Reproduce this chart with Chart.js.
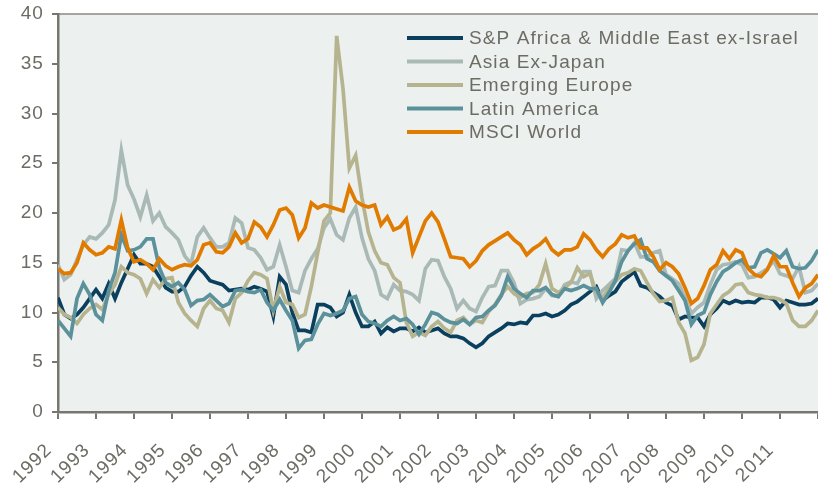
<!DOCTYPE html>
<html>
<head>
<meta charset="utf-8">
<script src="https://cdn.jsdelivr.net/npm/chart.js@4.4.0/dist/chart.umd.min.js"></script>
<style>
  html, body { margin: 0; padding: 0; background: #ffffff; }
  #wrap { width: 818px; height: 483px; }
</style>
</head>
<body>
<div id="wrap"><canvas id="grafico"></canvas></div>
<script>
// bimonthly readings, Jan 1992 .. Dec 2011
const startYear = 1992;
const pointsPerYear = 6;
const yearLabels = ['1992', '1993', '1994', '1995', '1996', '1997', '1998', '1999', '2000', '2001',
  '2002', '2003', '2004', '2005', '2006', '2007', '2008', '2009', '2010', '2011'];

const spAfrica = [
  11.5, 9.8, 9.4, 9.8, 10.5, 11.4,
  12.3, 11.4, 12.9, 11.4, 13.0, 14.4,
  15.8, 14.9, 14.9, 14.6, 13.6, 12.5,
  12.1, 12.1, 12.6, 13.7, 14.6, 14.0,
  13.2, 13.0, 12.8, 12.2, 12.3, 12.4,
  12.3, 12.6, 12.4, 12.1, 9.6, 13.6,
  12.8, 10.0, 8.2, 8.2, 8.0, 10.8,
  10.8, 10.5, 9.6, 10.0, 11.8, 10.0,
  8.6, 8.6, 9.1, 7.9, 8.5, 8.1,
  8.4, 8.4, 8.1, 8.5, 8.0, 8.2,
  8.4, 7.9, 7.6, 7.6, 7.4, 6.9,
  6.5, 6.9, 7.6, 8.0, 8.4, 8.9,
  8.8, 9.0, 8.9, 9.7, 9.7, 9.9,
  9.6, 9.8, 10.2, 10.8, 11.1, 11.6,
  12.1, 12.6, 11.2, 11.7, 12.1, 13.1,
  13.6, 14.1, 12.7, 12.5, 12.0, 11.6,
  11.0, 10.7, 9.3, 9.6, 9.5, 9.5,
  8.6, 9.8, 10.4, 11.2, 10.9, 11.2,
  11.0, 11.1, 11.0, 11.5, 11.5, 11.3,
  10.5, 11.2, 11.0, 10.8, 10.8, 10.9, 11.4
];

const asiaExJapan = [
  14.8, 13.3, 13.8, 15.3, 16.8, 17.6,
  17.4, 18.0, 18.8, 21.3, 26.3, 22.8,
  21.4, 19.6, 21.8, 19.2, 20.0, 18.6,
  18.0, 17.3, 15.7, 14.9, 17.6, 18.5,
  17.5, 16.6, 16.6, 17.0, 19.5, 19.0,
  16.5, 16.3, 15.5, 14.3, 14.6, 16.8,
  14.6, 12.2, 12.0, 14.2, 15.4, 16.4,
  18.5, 19.4, 17.8, 17.3, 19.5, 20.6,
  17.5, 15.4, 14.2, 11.8, 11.4, 12.8,
  12.2, 12.1, 11.8, 11.2, 14.4, 15.3,
  15.2, 13.6, 12.4, 10.4, 11.2, 10.4,
  10.1, 11.5, 12.6, 12.7, 14.2, 14.2,
  13.0, 10.9, 11.3, 11.4, 11.6, 12.4,
  11.7, 11.6, 12.8, 13.1, 12.9, 14.1,
  14.1, 11.4, 12.2, 12.8, 13.4, 16.3,
  16.2, 17.0, 15.6, 15.6, 16.0, 16.2,
  13.8, 13.4, 12.9, 11.5, 9.9, 10.5,
  11.0, 12.8, 14.3, 14.8, 14.9, 15.1,
  14.8, 13.5, 13.6, 14.0, 14.4, 15.2,
  13.9, 13.7, 13.4, 14.6, 12.0, 12.2, 12.9
];

const emergingEurope = [
  10.5, 9.8, 9.5, 8.9, 9.8, 10.4,
  10.8, 10.3, 11.8, 12.8, 14.6, 14.0,
  13.8, 13.4, 11.9, 13.3, 12.5, 13.4,
  13.5, 11.0, 9.9, 9.2, 8.6, 10.4,
  11.2, 10.4, 10.2, 9.0, 11.4, 12.0,
  13.2, 14.0, 13.8, 13.4, 10.2, 12.6,
  11.0, 10.8, 9.5, 9.8, 12.6, 16.0,
  19.2, 20.0, 37.8, 32.5, 24.5, 25.8,
  21.5, 18.1, 16.2, 15.0, 14.8, 13.5,
  13.0, 9.0, 7.6, 8.0, 7.7, 8.6,
  9.1, 8.4, 8.0, 9.2, 9.5, 8.8,
  9.2, 9.0, 10.1, 10.8, 11.8, 12.6,
  11.9, 11.5, 11.9, 12.0, 12.8, 14.9,
  12.4, 12.0, 12.5, 13.0, 14.5, 13.6,
  13.9, 12.0, 11.5, 12.4, 13.1, 13.8,
  14.0, 14.4, 14.2, 13.0, 11.9, 11.1,
  11.2, 11.5, 9.0, 7.9, 5.2, 5.5,
  6.8, 9.9, 10.8, 11.7, 12.1, 12.8,
  12.9, 12.0, 11.8, 11.7, 11.5, 11.5,
  11.3, 10.9, 9.2, 8.6, 8.6, 9.2, 10.2
];

const latinAmerica = [
  9.2, 8.4, 7.6, 11.4, 12.9, 11.8,
  9.8, 9.2, 12.2, 14.0, 17.8, 16.2,
  16.3, 16.6, 17.4, 17.4, 14.5, 13.0,
  12.6, 13.0, 12.3, 10.7, 11.2, 11.3,
  11.8, 11.2, 10.6, 10.9, 12.2, 12.3,
  12.1, 12.0, 12.3, 11.0, 10.2, 11.3,
  10.2, 9.2, 6.4, 7.2, 7.3, 8.8,
  9.9, 9.7, 9.9, 10.2, 11.4, 11.6,
  9.8, 9.1, 8.9, 8.6, 9.2, 9.6,
  9.2, 9.4, 8.8, 7.8, 8.8, 10.0,
  9.8, 9.3, 9.0, 8.9, 9.3, 8.8,
  9.5, 9.6, 10.2, 10.7, 11.7, 13.6,
  12.4, 11.9, 11.5, 12.2, 12.2, 12.5,
  11.8, 11.6, 12.4, 12.2, 12.4, 12.7,
  12.4, 12.4, 11.0, 12.0, 13.2, 15.1,
  16.2, 16.9, 17.3, 15.4, 15.1, 14.2,
  13.7, 13.2, 12.2, 11.2, 8.8, 9.7,
  10.0, 11.8, 13.1, 14.1, 14.5, 15.0,
  15.3, 14.5, 14.6, 16.0, 16.3, 15.9,
  15.5, 16.2, 14.6, 14.4, 14.5, 15.2, 16.3
];

const msciWorld = [
  14.4, 13.9, 14.0, 15.0, 17.0, 16.3,
  15.8, 16.0, 16.6, 16.4, 19.3, 16.5,
  15.1, 15.3, 14.9, 14.3, 15.4, 14.7,
  14.3, 14.6, 14.8, 14.7, 15.3, 16.8,
  17.0, 16.1, 16.0, 16.6, 18.0, 17.0,
  17.4, 19.1, 18.6, 17.6, 18.8, 20.3,
  20.5, 19.8, 17.5, 18.5, 21.0, 20.5,
  20.8, 20.6, 20.4, 20.2, 22.6, 21.2,
  20.8, 20.6, 20.8, 18.8, 19.6, 18.3,
  18.6, 19.4, 16.0, 17.6, 19.2, 20.0,
  19.1, 17.4, 15.6, 15.5, 15.4, 14.6,
  15.2, 16.2, 16.8, 17.2, 17.6, 18.0,
  17.3, 16.8, 15.8, 16.4, 16.8, 17.4,
  16.3, 15.8, 16.3, 16.3, 16.6, 17.9,
  17.3, 16.3, 15.6, 16.4, 16.9, 17.8,
  17.5, 17.7, 16.5, 16.5, 15.6, 14.3,
  15.0, 14.6, 13.9, 12.5, 10.9, 11.4,
  12.7, 14.3, 14.8, 16.2, 15.4, 16.3,
  16.0, 14.4, 13.8, 13.6, 14.3, 15.7,
  14.6, 14.6, 13.0, 11.6, 12.5, 12.9, 13.8
];

const textColor = '#6c6c64';
const axisColor = '#77776f';
const fontFamily = '"Liberation Sans", Arial, sans-serif';

const toXY = vals => vals.map((v, i) => ({ x: startYear + i / pointsPerYear, y: v }));

function serie(label, data, color, order) {
  return {
    label,
    data: toXY(data),
    borderColor: color,
    backgroundColor: color,
    borderWidth: 3.7,
    pointRadius: 0,
    tension: 0,
    fill: false,
    order
  };
}

// fondo gris del área de trazado + borde superior
const fondo = {
  id: 'fondo',
  beforeDraw(chart) {
    const { ctx, chartArea: a } = chart;
    ctx.letterSpacing = '1.1px';
    ctx.save();
    ctx.fillStyle = '#ecf0ef';
    ctx.fillRect(a.left, a.top, a.right - a.left, a.bottom - a.top);
    ctx.strokeStyle = '#8a8a82';
    ctx.lineWidth = 1.5;
    ctx.beginPath();
    ctx.moveTo(a.left, a.top);
    ctx.lineTo(a.right, a.top);
    ctx.stroke();
    ctx.restore();
  }
};

// leyenda dentro del gráfico
const leyenda = {
  id: 'leyenda',
  afterDraw(chart) {
    const ctx = chart.ctx;
    const items = chart.data.datasets;
    ctx.save();
    ctx.font = '19px ' + fontFamily;
    ctx.letterSpacing = '1.1px';
    ctx.textBaseline = 'middle';
    ctx.textAlign = 'left';
    items.forEach((ds, i) => {
      const y = 38 + i * 23.5;
      ctx.strokeStyle = ds.borderColor;
      ctx.lineWidth = 4;
      ctx.beginPath();
      ctx.moveTo(407, y);
      ctx.lineTo(463, y);
      ctx.stroke();
      ctx.fillStyle = textColor;
      ctx.fillText(ds.label, 469, y + 1);
    });
    ctx.restore();
  }
};

const ctx = document.getElementById('grafico').getContext('2d');

new Chart(ctx, {
  type: 'line',
  data: {
    datasets: [
      serie('S&P Africa & Middle East ex-Israel', spAfrica, '#0b3f5e', 4),
      serie('Asia Ex-Japan', asiaExJapan, '#a9b9b6', 3),
      serie('Emerging Europe', emergingEurope, '#b6b48f', 2),
      serie('Latin America', latinAmerica, '#5b919b', 1),
      serie('MSCI World', msciWorld, '#e07b00', 0)
    ]
  },
  options: {
    responsive: true,
    maintainAspectRatio: false,
    animation: false,
    layout: { padding: { top: 14, right: 0, left: 0, bottom: 0 } },
    plugins: {
      legend: { display: false },
      tooltip: { enabled: false }
    },
    scales: {
      x: {
        type: 'linear',
        min: 1992,
        max: 2012,
        afterFit: s => { s.height = 71; s.paddingLeft = 0; s.paddingRight = 0; },
        ticks: {
          stepSize: 1,
          autoSkip: false,
          minRotation: 45,
          maxRotation: 45,
          padding: 20,
          labelOffset: -9,
          color: textColor,
          font: { family: fontFamily, size: 19 },
          callback: v => yearLabels.includes(String(v)) ? String(v) : ''
        },
        grid: { drawOnChartArea: false, tickLength: 7, color: axisColor, lineWidth: 2 },
        border: { color: axisColor, width: 2.5 }
      },
      y: {
        min: 0,
        max: 40,
        afterFit: s => { s.width = 58; s.paddingTop = 0; s.paddingBottom = 0; },
        ticks: {
          stepSize: 5,
          padding: 8,
          color: textColor,
          font: { family: fontFamily, size: 19 }
        },
        grid: { drawOnChartArea: false, tickLength: 6, color: axisColor, lineWidth: 2 },
        border: { color: axisColor, width: 2.5 }
      }
    }
  },
  plugins: [fondo, leyenda]
});
</script>
</body>
</html>
